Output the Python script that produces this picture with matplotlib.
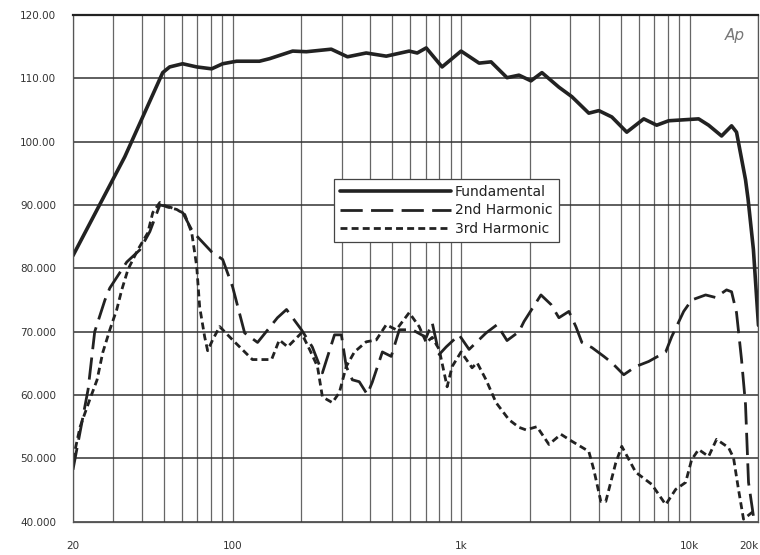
import matplotlib
matplotlib.use("Agg")
import matplotlib.pyplot as plt
import numpy as np

# Data (frequency in Hz, level in dB)
fund_f = [20, 33.7, 49.4, 53.0, 60.4, 69.6, 80.9, 90.4, 104, 131, 145, 183, 210,
          270, 318, 384, 470, 592, 642, 703, 825, 999, 1198, 1351, 1587, 1790,
          2020, 2256, 2677, 3051, 3618, 4002, 4562, 5304, 6295, 7172, 8091,
          10940, 12100, 13790, 15250, 16030, 17550, 18000, 19000, 20000]
fund_db = [82.0, 97.6, 110.9, 111.8, 112.3, 111.8, 111.5, 112.3, 112.7, 112.7,
           113.1, 114.3, 114.2, 114.6, 113.4, 114.0, 113.5, 114.3, 114.0, 114.8,
           111.8, 114.3, 112.4, 112.6, 110.1, 110.5, 109.6, 110.9, 108.6, 107.1,
           104.5, 104.9, 103.9, 101.5, 103.6, 102.6, 103.3, 103.6, 102.6, 100.9,
           102.5, 101.5, 94.0, 91.0, 83.0, 71.0]

h2_f = [20, 23.3, 24.9, 27.6, 29.0, 34.4, 39.2, 43.4, 48.0, 53.0, 60.4, 66.8,
        80.9, 90.4, 99.9, 112.8, 128.5, 157, 172, 200, 223, 247, 279, 299, 314,
        334, 358, 388, 408, 452, 494, 536, 611, 703, 747, 801, 860, 979, 1083,
        1285, 1435, 1587, 1790, 1883, 2234, 2471, 2677, 2960, 3176, 3374, 3731,
        4210, 4562, 5146, 5808, 6618, 7852, 8340, 9412, 10200, 11740, 12980,
        14500, 15250, 16030, 16860, 17550, 18090, 19020]
h2_db = [48.2, 60.9, 70.0, 75.0, 76.9, 81.0, 82.9, 85.8, 90.0, 89.7, 88.8, 85.8,
         82.6, 81.4, 77.1, 69.8, 68.3, 72.2, 73.5, 70.3, 67.6, 63.5, 69.5, 69.5,
         64.5, 62.4, 62.1, 60.1, 62.0, 66.8, 66.1, 70.3, 70.3, 69.1, 71.4, 66.4,
         67.6, 69.5, 67.2, 69.8, 71.1, 68.6, 70.0, 71.6, 75.8, 74.3, 72.2, 73.2,
         70.8, 68.3, 67.5, 66.1, 65.1, 63.2, 64.5, 65.3, 66.8, 69.2, 73.2, 75.0,
         75.8, 75.4, 76.6, 76.3, 73.0, 65.6, 58.5, 46.2, 40.8]

h3_f = [20, 21.5, 23.7, 25.5, 27.0, 29.0, 31.1, 32.7, 34.8, 38.4, 42.5, 44.7,
        48.0, 51.5, 56.9, 61.7, 66.2, 69.6, 71.7, 75.4, 77.7, 81.7, 87.7, 99.9,
        122, 148, 160, 174, 200, 217, 235, 247, 273, 293, 314, 341, 384, 425,
        470, 520, 592, 655, 703, 747, 801, 868, 913, 999, 1116, 1174, 1285,
        1421, 1619, 1790, 1920, 2146, 2421, 2732, 3051, 3618, 3806, 4084, 4294,
        4748, 5044, 5808, 6820, 7852, 8682, 9598, 10200, 10940, 12100, 13110,
        14790, 15550, 16350, 17200, 19410]
h3_db = [49.8, 55.0, 59.3, 62.4, 66.7, 70.3, 73.5, 76.6, 79.8, 82.9, 85.6, 88.8,
         90.4, 89.7, 89.3, 88.5, 85.6, 80.3, 73.9, 69.2, 67.0, 68.7, 70.8, 68.7,
         65.6, 65.6, 68.7, 67.6, 69.8, 67.2, 64.5, 59.7, 58.8, 60.4, 64.5, 66.8,
         68.4, 68.7, 71.1, 70.3, 73.0, 70.8, 68.3, 69.1, 67.2, 61.3, 64.5, 66.8,
         64.3, 65.1, 62.4, 58.8, 56.1, 54.9, 54.5, 55.0, 52.2, 53.8, 52.7, 51.1,
         48.2, 43.2, 43.2, 49.3, 51.9, 47.8, 45.9, 42.7, 45.1, 46.2, 49.8, 51.4,
         50.3, 53.0, 51.7, 50.1, 45.1, 40.4, 41.9]

y_ticks = [40, 50, 60, 70, 80, 90, 100, 110, 120]
y_labels = ["40.000", "50.000", "60.000", "70.000", "80.000", "90.000",
            "100.00", "110.00", "120.00"]
x_ticks = [20, 100, 1000, 10000, 20000]
x_labels = ["20", "100", "1k", "10k", "20k"]

fig = plt.figure(figsize=(7.6, 5.55), dpi=100)
ax = fig.add_axes([0.096, 0.06, 0.902, 0.913])
ink = "#222222"

ax.plot(fund_f, fund_db, color=ink, lw=2.6, solid_capstyle="round",
        solid_joinstyle="round", label="Fundamental")
ax.plot(h2_f, h2_db, color=ink, lw=2.0, dashes=(8, 3),
        dash_joinstyle="round", label="2nd Harmonic")
ax.plot(h3_f, h3_db, color=ink, lw=2.0, dashes=(2.5, 1.5),
        dash_joinstyle="round", label="3rd Harmonic")

ax.set_xscale("log")
ax.set_xlim(20, 20000)
ax.set_ylim(40, 120)

# grid lines at 20,30,...,90,100,200,... 20k
grid_f = [m * 10 ** d for d in range(1, 5) for m in range(1, 10)
          if 20 <= m * 10 ** d <= 20000]
ax.set_xticks(grid_f, minor=True)
ax.set_xticks(x_ticks)
ax.set_xticklabels(x_labels)
ax.set_xticklabels([], minor=True)
ax.set_yticks(y_ticks)
ax.set_yticklabels(y_labels)
ax.grid(True, which="both", axis="x", color="#666666", lw=0.9)
ax.grid(True, which="major", axis="y", color="#333333", lw=1.1)
ax.tick_params(which="both", length=0, labelsize=7.5, colors="#333333")
ax.tick_params(axis="x", pad=14)
ax.tick_params(axis="y", pad=12)
ax.get_xticklabels()[-1].set_ha("right")
for s in ["left", "bottom", "right"]:
    ax.spines[s].set_color("#555555")
    ax.spines[s].set_linewidth(0.9)
ax.spines["top"].set_color("#222222")
ax.spines["top"].set_linewidth(1.6)

ax.text(0.965, 0.975, "Ap", transform=ax.transAxes, ha="center", va="top",
        fontsize=11, style="italic", color="#777777")

leg = ax.legend(loc="upper left", bbox_to_anchor=(0.37, 0.69), fontsize=10,
                handlelength=8.0, handletextpad=0.3, labelspacing=0.3,
                borderpad=0.45, frameon=True, fancybox=False, framealpha=1,
                edgecolor="#444444")
leg.get_frame().set_linewidth(0.9)
for t in leg.get_texts():
    t.set_color("#222222")

fig.savefig("out.png", dpi=100, facecolor="white")
